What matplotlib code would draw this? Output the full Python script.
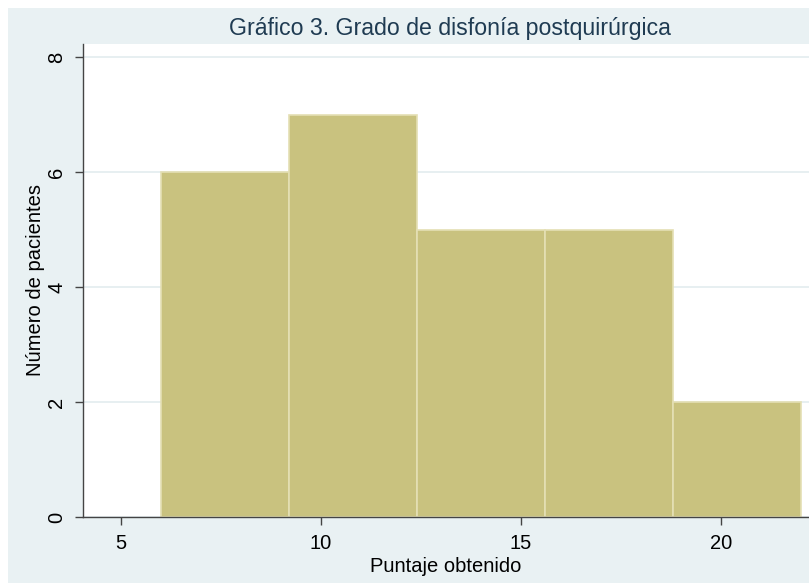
import matplotlib.pyplot as plt
from matplotlib.patches import Rectangle

# histogram data
bin_edges = [6.0, 9.2, 12.4, 15.6, 18.8, 22.0]
counts = [6, 7, 5, 5, 2]
x_ticks = [5, 10, 15, 20]
y_ticks = [0, 2, 4, 6, 8]

title = "Gráfico 3. Grado de disfonía postquirúrgica"
xlabel = "Puntaje obtenido"
ylabel = "Número de pacientes"

plt.rcParams['font.family'] = ['Liberation Sans', 'DejaVu Sans']

bg = '#E9F1F3'
bar_color = '#C9C27F'

fig = plt.figure(figsize=(8.09, 5.83), dpi=100)
fig.patch.set_facecolor('white')

# outer graph region (Stata-like light blue background)
fig.patches.append(Rectangle((8 / 809, 0), 1, (583 - 8) / 583,
                             transform=fig.transFigure, facecolor=bg,
                             edgecolor='none', zorder=-10))

ax = fig.add_axes([83 / 809, 66 / 583, 1 - 83 / 809, (517 - 44) / 583])
ax.set_zorder(5)
ax.set_facecolor('white')

widths = [bin_edges[i + 1] - bin_edges[i] for i in range(len(counts))]
ax.bar(bin_edges[:-1], counts, width=widths, align='edge',
       color=bar_color, edgecolor='#E4DFB4', linewidth=1.2, zorder=2)

ax.set_xlim(4.05, 22.2)
ax.set_ylim(0, 8.23)
ax.set_xticks(x_ticks)
ax.set_yticks(y_ticks)
ax.set_yticklabels([str(v) for v in y_ticks], rotation=90, va='center')

ax.grid(axis='y', color='#E3ECEF', linewidth=1.2, zorder=1)
ax.set_axisbelow(True)

for s in ['top', 'right']:
    ax.spines[s].set_visible(False)
for s in ['left', 'bottom']:
    ax.spines[s].set_color('#444444')
    ax.spines[s].set_linewidth(1.0)

ax.tick_params(axis='both', direction='out', length=6, width=1,
               color='#444444', labelsize=14.5, labelcolor='black', pad=6)

ax.set_xlabel(xlabel, fontsize=14.5, labelpad=3)
ax.set_ylabel(ylabel, fontsize=14.5, labelpad=2)

fig.text(450 / 809, 1 - 29 / 583, title, ha='center', va='center',
         fontsize=16.7, color='#1F3B52')

plt.savefig('out.png', dpi=100)
